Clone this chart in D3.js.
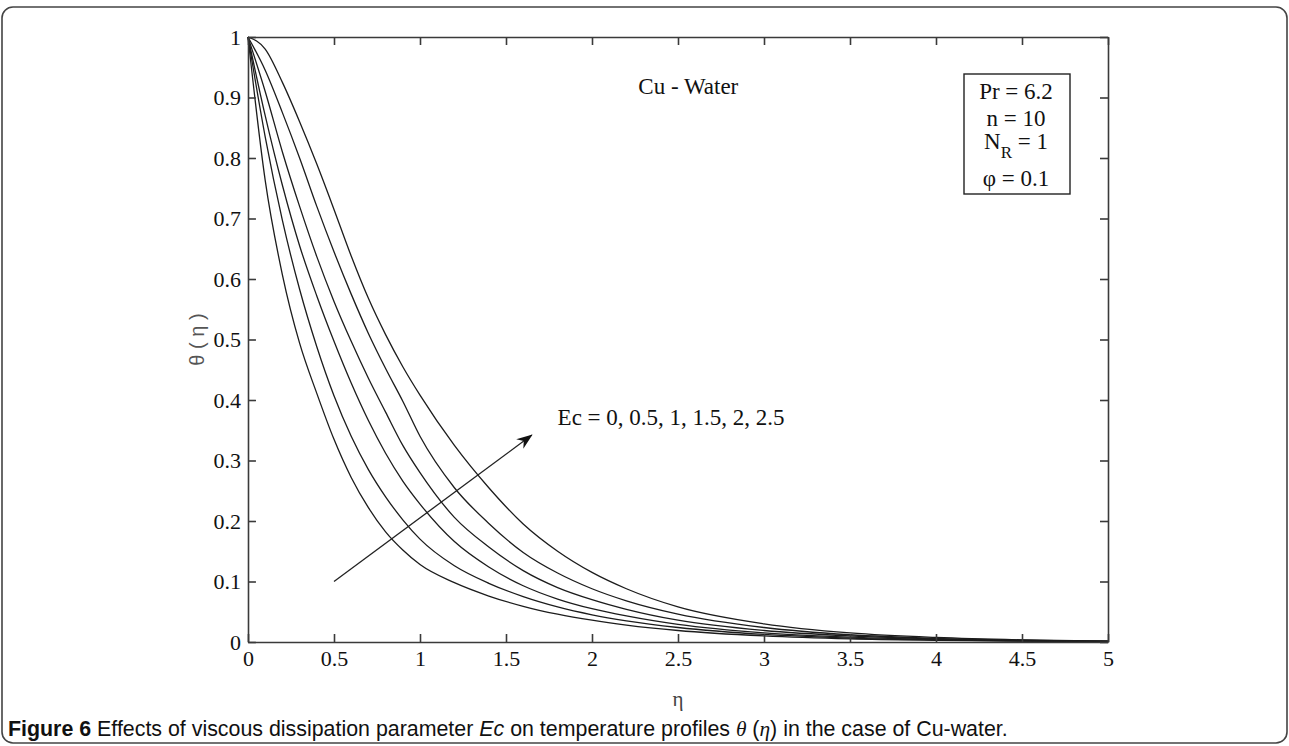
<!DOCTYPE html>
<html>
<head>
<meta charset="utf-8">
<script src="https://cdn.jsdelivr.net/npm/d3@7"></script>
<style>
  html, body { margin: 0; padding: 0; background: #fff; }
  svg { display: block; }
</style>
</head>
<body>
<svg id="chart" width="1289" height="746"></svg>
<script>
// ---------------- data ----------------
const etaValues = [0, 0.1, 0.2, 0.3, 0.4, 0.5, 0.6, 0.7, 0.8, 0.9, 1.0, 1.2, 1.4, 1.6, 1.8, 2.0, 2.2, 2.5, 3.0, 3.5, 4.0, 4.5, 5.0];
const ecValues = [0, 0.5, 1, 1.5, 2, 2.5];
const thetaEc0   = [1, 0.763, 0.607, 0.494, 0.411, 0.335, 0.272, 0.222, 0.182, 0.152, 0.128, 0.098, 0.076, 0.059, 0.046, 0.036, 0.028, 0.019, 0.010, 0.005, 0.0027, 0.0014, 0.0007];
const thetaEc05  = [1, 0.835, 0.697, 0.583, 0.488, 0.407, 0.340, 0.285, 0.240, 0.202, 0.170, 0.126, 0.097, 0.075, 0.058, 0.045, 0.035, 0.024, 0.0125, 0.0065, 0.0034, 0.0017, 0.0009];
const thetaEc1   = [1, 0.870, 0.755, 0.655, 0.572, 0.497, 0.428, 0.366, 0.312, 0.266, 0.228, 0.166, 0.124, 0.093, 0.071, 0.055, 0.043, 0.029, 0.015, 0.008, 0.004, 0.002, 0.001];
const thetaEc15  = [1, 0.910, 0.810, 0.720, 0.637, 0.563, 0.497, 0.436, 0.380, 0.325, 0.280, 0.206, 0.157, 0.118, 0.090, 0.070, 0.054, 0.036, 0.019, 0.010, 0.005, 0.0025, 0.001];
const thetaEc2   = [1, 0.945, 0.875, 0.800, 0.720, 0.645, 0.575, 0.510, 0.452, 0.398, 0.340, 0.255, 0.196, 0.148, 0.114, 0.088, 0.068, 0.046, 0.024, 0.012, 0.006, 0.003, 0.0012];
const thetaEc25  = [1, 0.980, 0.925, 0.860, 0.790, 0.715, 0.638, 0.568, 0.508, 0.455, 0.408, 0.325, 0.255, 0.195, 0.150, 0.115, 0.088, 0.058, 0.030, 0.015, 0.0075, 0.0035, 0.0015];
const thetaSeries = [thetaEc0, thetaEc05, thetaEc1, thetaEc15, thetaEc2, thetaEc25];

const xTickValues = [0, 0.5, 1, 1.5, 2, 2.5, 3, 3.5, 4, 4.5, 5];
const xTickLabels = ["0", "0.5", "1", "1.5", "2", "2.5", "3", "3.5", "4", "4.5", "5"];
const yTickValues = [0, 0.1, 0.2, 0.3, 0.4, 0.5, 0.6, 0.7, 0.8, 0.9, 1];
const yTickLabels = ["0", "0.1", "0.2", "0.3", "0.4", "0.5", "0.6", "0.7", "0.8", "0.9", "1"];

const arrowStart = [0.5, 0.1];
const arrowEnd = [1.65, 0.342];
const ecLabelText = "Ec = 0, 0.5, 1, 1.5, 2, 2.5";
const ecLabelAt = [1.8, 0.358];
const fluidText = "Cu - Water";
const fluidAt = [2.56, 0.905];
const paramLines = ["Pr = 6.2", "n = 10", "N_R = 1", "\u03C6 = 0.1"];

// ---------------- layout ----------------
const svg = d3.select("#chart");
const W = 1289, H = 746;
const x = d3.scaleLinear().domain([0, 5]).range([248, 1108]);
const y = d3.scaleLinear().domain([0, 1]).range([642, 37]);
const serif = "'Liberation Serif', 'Times New Roman', serif";
const sans = "'Liberation Sans', Arial, sans-serif";
const axisColor = "#3a3a3a";

// outer rounded frame
svg.append("rect")
  .attr("x", 2).attr("y", 7).attr("width", W - 4).attr("height", H - 10)
  .attr("rx", 11).attr("ry", 11)
  .attr("fill", "none").attr("stroke", "#444").attr("stroke-width", 1.6);

// curves
const line = d3.line()
  .x((d, i) => x(etaValues[i]))
  .y(d => y(d))
  .curve(d3.curveMonotoneX);

svg.append("g").selectAll("path")
  .data(thetaSeries)
  .join("path")
  .attr("d", d => line(d))
  .attr("fill", "none")
  .attr("stroke", "#1c1c1c")
  .attr("stroke-width", 1.3);

// axes (box with inward ticks)
function styleAxis(g) {
  g.selectAll("path.domain").attr("stroke", axisColor).attr("stroke-width", 1.6);
  g.selectAll(".tick line").attr("stroke", axisColor).attr("stroke-width", 1.6);
  g.selectAll(".tick text").attr("fill", "#111").style("font-family", serif).style("font-size", "22px");
}

svg.append("g").attr("transform", `translate(0,${y(0)})`)
  .call(d3.axisBottom(x).tickValues(xTickValues).tickFormat((d, i) => xTickLabels[i])
        .tickSizeInner(-8).tickSizeOuter(0).tickPadding(8))
  .call(styleAxis);

svg.append("g").attr("transform", `translate(0,${y(1)})`)
  .call(d3.axisTop(x).tickValues(xTickValues).tickFormat(() => "")
        .tickSizeInner(-8).tickSizeOuter(0))
  .call(styleAxis);

svg.append("g").attr("transform", `translate(${x(0)},0)`)
  .call(d3.axisLeft(y).tickValues(yTickValues).tickFormat((d, i) => yTickLabels[i])
        .tickSizeInner(-8).tickSizeOuter(0).tickPadding(7))
  .call(styleAxis);

svg.append("g").attr("transform", `translate(${x(5)},0)`)
  .call(d3.axisRight(y).tickValues(yTickValues).tickFormat(() => "")
        .tickSizeInner(-8).tickSizeOuter(0))
  .call(styleAxis);

// axis titles
svg.append("text")
  .attr("x", x(2.5)).attr("y", 706)
  .attr("text-anchor", "middle")
  .style("font-family", serif).style("font-size", "21px").attr("fill", "#444")
  .text("\u03B7");

svg.append("text")
  .attr("transform", `translate(204,${(y(0) + y(1)) / 2}) rotate(-90)`)
  .attr("text-anchor", "middle")
  .style("font-family", sans).style("font-size", "20px").attr("fill", "#555")
  .text("\u03B8 ( \u03B7 )");

// arrow annotation
const defs = svg.append("defs");
defs.append("marker")
  .attr("id", "arrowhead")
  .attr("viewBox", "0 0 16 12")
  .attr("refX", 15).attr("refY", 6)
  .attr("markerWidth", 16).attr("markerHeight", 12)
  .attr("markerUnits", "userSpaceOnUse")
  .attr("orient", "auto")
  .append("path")
  .attr("d", "M0,0 L16,6 L0,12 L5,6 Z")
  .attr("fill", "#111");

svg.append("line")
  .attr("x1", x(arrowStart[0])).attr("y1", y(arrowStart[1]))
  .attr("x2", x(arrowEnd[0])).attr("y2", y(arrowEnd[1]))
  .attr("stroke", "#222").attr("stroke-width", 1.3)
  .attr("marker-end", "url(#arrowhead)");

svg.append("text")
  .attr("x", x(ecLabelAt[0])).attr("y", y(ecLabelAt[1]))
  .style("font-family", serif).style("font-size", "23px").attr("fill", "#111")
  .text(ecLabelText);

svg.append("text")
  .attr("x", x(fluidAt[0])).attr("y", y(fluidAt[1]))
  .attr("text-anchor", "middle")
  .style("font-family", serif).style("font-size", "23px").attr("fill", "#111")
  .text(fluidText);

// parameter box
const boxLeft = 964, boxRight = 1070, boxTop = 74, boxBottom = 194;
svg.append("rect")
  .attr("x", boxLeft).attr("y", boxTop)
  .attr("width", boxRight - boxLeft).attr("height", boxBottom - boxTop)
  .attr("fill", "#fff").attr("stroke", "#222").attr("stroke-width", 1.4);

const cx = (boxLeft + boxRight) / 2 - 1;
const baselines = [99, 126, 149, 186];
paramLines.forEach((t, i) => {
  const txt = svg.append("text")
    .attr("x", cx).attr("y", baselines[i])
    .attr("text-anchor", "middle")
    .style("font-family", serif).style("font-size", "23px").attr("fill", "#111");
  if (t.includes("_")) {
    const [base, rest] = t.split("_");
    txt.append("tspan").text(base);
    txt.append("tspan").attr("dy", 9).style("font-size", "17px").text(rest[0]);
    txt.append("tspan").attr("dy", -9).text(rest.slice(1));
  } else {
    txt.text(t);
  }
});

// caption
const cap = svg.append("text")
  .attr("x", 8).attr("y", 736)
  .style("font-family", sans)
  .style("font-size", "16px").attr("fill", "#111");
cap.append("tspan").style("font-weight", "bold").text("Figure 6");
cap.append("tspan").text(" Effects of viscous dissipation parameter ");
cap.append("tspan").style("font-style", "italic").text("Ec");
cap.append("tspan").text(" on temperature profiles ");
cap.append("tspan").style("font-style", "italic").style("font-family", serif).text("\u03B8");
cap.append("tspan").text(" (");
cap.append("tspan").style("font-style", "italic").style("font-family", serif).text("\u03B7");
cap.append("tspan").text(") in the case of Cu-water.");
const targetW = 1000;
const curW = cap.node().getComputedTextLength();
cap.style("font-size", (16 * targetW / curW).toFixed(2) + "px");
</script>
</body>
</html>
